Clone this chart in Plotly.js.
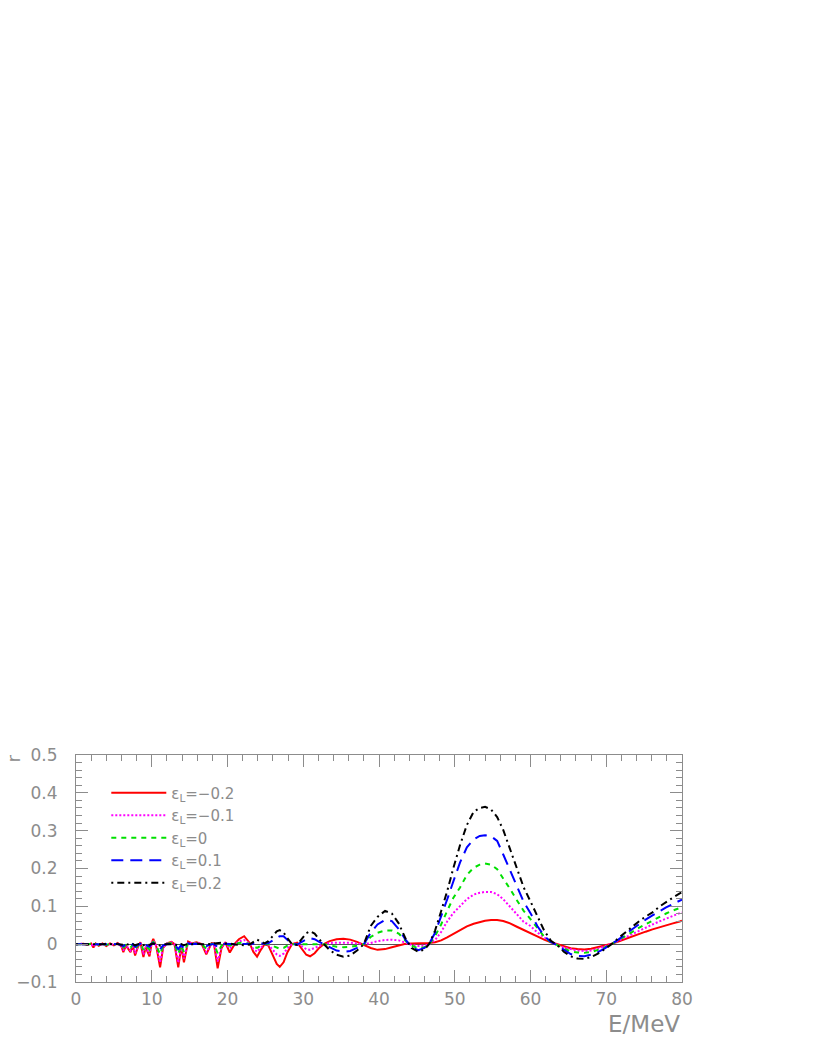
<!DOCTYPE html>
<html>
<head>
<meta charset="utf-8">
<script src="https://cdn.plot.ly/plotly-3.0.1.min.js"></script>
<style>
  html, body { margin: 0; padding: 0; background: #fff; }
  #chart { width: 817px; height: 1058px; }
</style>
</head>
<body>
<div id="chart"></div>
<script>
// energy grid (MeV)
const energy = [
  0, 0.5, 1, 1.5, 2, 2.3, 2.6, 3, 3.5, 4,
  4.5, 5, 5.5, 6, 6.25, 6.6, 6.9, 7.2, 7.5, 7.8,
  8.2, 8.5, 8.9, 9.2, 9.4, 9.7, 10, 10.2, 10.6, 11.1,
  11.5, 12, 12.6, 13, 13.5, 13.9, 14.25, 14.8, 15.3, 15.9,
  16.6, 17.2, 17.9, 18.2, 18.7, 19.2, 19.7, 20.3, 21, 21.5,
  22.2, 22.9, 23.4, 23.9, 24.4, 24.9, 25.4, 26, 26.5, 26.9,
  27.4, 27.9, 28.5, 29.2, 29.8, 30.4, 30.9, 31.5, 32.1, 32.7,
  33.5, 34.4, 35.3, 36.2, 37.1, 38, 38.9, 39.8, 40.8, 41.7,
  42.6, 43.5, 44.3, 45.2, 46, 46.6, 47.4, 48.2, 49, 49.8,
  50.7, 51.6, 52.5, 53.3, 54, 54.8, 55.6, 56.4, 57.3, 58.2,
  59.1, 60, 60.9, 61.8, 62.7, 63.5, 64.4, 65.3, 66.2, 67.1,
  68, 68.9, 69.8, 70.7, 71.6, 72.5, 73.4, 74.3, 75.2, 76.1,
  77, 77.9, 78.8, 79.7, 80
];

// eps_L = -0.2
const rMinus02 = [
  0, 0, 0.001, -0.002, 0.002, -0.009, 0.002, -0.004, 0.002, -0.005,
  0.002, -0.003, 0.003, -0.006, -0.021, -0.004, -0.012, -0.021, -0.003, -0.030,
  -0.006, 0.005, -0.034, -0.008, -0.018, -0.032, 0.004, 0.014, -0.006, -0.061,
  -0.010, 0.002, 0.006, 0.000, -0.061, -0.006, -0.048, 0.007, 0.002, 0.005,
  0.000, -0.027, 0.003, 0.003, -0.064, -0.011, 0.005, -0.022, 0.002, 0.013,
  0.021, 0.004, -0.020, -0.033, -0.015, 0.000, -0.004, -0.030, -0.052, -0.060,
  -0.048, -0.022, 0.000, 0.004, -0.012, -0.028, -0.032, -0.024, -0.010, 0.000,
  0.008, 0.013, 0.014, 0.012, 0.006, -0.002, -0.010, -0.015, -0.013, -0.008,
  -0.003, 0.001, 0.002, 0.002, 0.002, 0.003, 0.005, 0.010, 0.018, 0.027,
  0.036, 0.047, 0.054, 0.059, 0.062, 0.064, 0.064, 0.061, 0.055, 0.046,
  0.037, 0.030, 0.019, 0.012, 0.005, 0.000, -0.007, -0.011, -0.013, -0.014,
  -0.012, -0.008, -0.004, 0.001, 0.007, 0.014, 0.021, 0.027, 0.033, 0.039,
  0.045, 0.050, 0.055, 0.060, 0.062
];

// eps_L = -0.1
const rMinus01 = [
  0, 0, 0.001, -0.001, 0.001, -0.007, 0.001, -0.003, 0.001, -0.004,
  0.001, -0.002, 0.002, -0.005, -0.017, -0.003, -0.010, -0.017, -0.002, -0.024,
  -0.005, 0.004, -0.027, -0.006, -0.014, -0.026, 0.003, 0.011, -0.005, -0.049,
  -0.008, 0.002, 0.005, 0, -0.049, -0.005, -0.038, 0.005, 0.002, 0.004,
  0, -0.021, 0.002, 0.002, -0.046, -0.008, 0.003, -0.011, 0.001, 0.007,
  0.011, 0.002, -0.012, -0.020, -0.009, 0, -0.002, -0.016, -0.027, -0.031,
  -0.025, -0.011, 0, 0.002, -0.006, -0.013, -0.015, -0.011, -0.005, 0,
  0.003, 0.004, 0.004, 0.004, 0.002, 0, 0.003, 0.008, 0.011, 0.012,
  0.010, 0.003, -0.002, -0.005, -0.004, 0, 0.011, 0.032, 0.060, 0.082,
  0.101, 0.119, 0.131, 0.136, 0.138, 0.138, 0.132, 0.119, 0.099, 0.078,
  0.059, 0.048, 0.031, 0.018, 0.007, -0.002, -0.009, -0.014, -0.017, -0.018,
  -0.017, -0.012, -0.006, 0.001, 0.009, 0.018, 0.026, 0.035, 0.044, 0.052,
  0.060, 0.068, 0.075, 0.082, 0.084
];

// eps_L = 0
const rZero = [
  0, 0, 0, -0.001, 0.001, -0.004, 0.001, -0.002, 0.001, -0.002,
  0.001, -0.001, 0.001, -0.003, -0.009, -0.002, -0.005, -0.009, -0.001, -0.013,
  -0.003, 0.002, -0.015, -0.004, -0.008, -0.014, 0.002, 0.006, -0.003, -0.027,
  -0.005, 0.001, 0.003, 0, -0.026, -0.003, -0.021, 0.003, 0.001, 0.002,
  0, -0.012, 0.001, 0.001, -0.024, -0.004, 0.002, -0.004, 0, 0.003,
  0.004, 0.001, -0.006, -0.010, -0.004, 0, 0, -0.005, -0.010, -0.012,
  -0.010, -0.004, 0, 0, 0, 0, 0, 0, 0, 0,
  -0.003, -0.007, -0.008, -0.007, -0.004, 0, 0.019, 0.030, 0.036, 0.036,
  0.028, 0.009, -0.004, -0.011, -0.008, -0.001, 0.021, 0.052, 0.088, 0.122,
  0.150, 0.183, 0.202, 0.210, 0.213, 0.210, 0.198, 0.175, 0.146, 0.116,
  0.088, 0.066, 0.043, 0.020, 0.005, -0.002, -0.012, -0.019, -0.022, -0.023,
  -0.021, -0.016, -0.009, 0, 0.010, 0.022, 0.032, 0.043, 0.053, 0.063,
  0.072, 0.081, 0.089, 0.095, 0.098
];

// eps_L = 0.1
const rPlus01 = [
  0, 0, 0, 0, 0, -0.002, 0, -0.001, 0, -0.001,
  0, 0, 0.001, -0.002, -0.005, -0.001, -0.003, -0.005, 0, -0.007,
  -0.002, 0.001, -0.008, -0.002, -0.004, -0.007, 0.001, 0.003, -0.002, -0.013,
  -0.003, 0, 0.001, 0, -0.013, -0.002, -0.011, 0.002, 0, 0.001,
  0, -0.005, 0, 0, -0.007, -0.001, 0.001, 0, 0, 0,
  0, 0, 0.001, 0.002, 0.002, 0.001, 0.003, 0.010, 0.018, 0.021,
  0.021, 0.011, 0, -0.001, 0.006, 0.013, 0.016, 0.013, 0.006, 0,
  -0.010, -0.017, -0.020, -0.018, -0.010, 0, 0.030, 0.052, 0.064, 0.061,
  0.040, 0.012, -0.008, -0.016, -0.010, 0, 0.030, 0.073, 0.118, 0.165,
  0.216, 0.256, 0.277, 0.286, 0.288, 0.285, 0.273, 0.237, 0.196, 0.154,
  0.112, 0.082, 0.048, 0.022, 0.006, -0.003, -0.015, -0.026, -0.031, -0.032,
  -0.028, -0.021, -0.011, 0, 0.012, 0.026, 0.039, 0.053, 0.065, 0.076,
  0.087, 0.097, 0.106, 0.115, 0.118
];

// eps_L = 0.2
const rPlus02 = [
  0, 0, 0, 0, 0, -0.001, 0, 0, 0, 0.001,
  0, 0.001, 0, -0.001, -0.002, 0, -0.001, -0.002, 0, -0.003,
  0, 0.001, -0.003, 0, -0.001, -0.002, 0.001, 0.002, 0, -0.004,
  0, 0, 0.001, 0, -0.004, 0, -0.003, 0.001, 0, 0.001,
  0, -0.001, 0.001, 0.002, 0.004, 0.004, 0.002, 0.002, -0.001, -0.002,
  -0.003, -0.001, 0.006, 0.012, 0.007, 0.002, 0.008, 0.022, 0.034, 0.037,
  0.031, 0.016, 0, -0.002, 0.014, 0.029, 0.034, 0.028, 0.013, 0,
  -0.016, -0.028, -0.033, -0.030, -0.017, 0, 0.048, 0.072, 0.088, 0.081,
  0.055, 0.015, -0.010, -0.020, -0.014, 0, 0.036, 0.087, 0.140, 0.200,
  0.262, 0.315, 0.350, 0.360, 0.363, 0.356, 0.336, 0.302, 0.253, 0.202,
  0.150, 0.113, 0.074, 0.036, 0.009, -0.002, -0.020, -0.032, -0.038, -0.039,
  -0.034, -0.025, -0.013, 0, 0.016, 0.031, 0.046, 0.060, 0.073, 0.084,
  0.099, 0.112, 0.123, 0.134, 0.137
];

const seriesNames = [
  'ε<sub>L</sub>=−0.2',
  'ε<sub>L</sub>=−0.1',
  'ε<sub>L</sub>=0',
  'ε<sub>L</sub>=0.1',
  'ε<sub>L</sub>=0.2'
];
const seriesValues = [rMinus02, rMinus01, rZero, rPlus01, rPlus02];
const seriesColors = ['#ff0000', '#ff00ff', '#00e000', '#0000ff', '#000000'];
const seriesDash = ['solid', '2px,2px', '5px,5px', '12px,7px', '2px,4px,7px,4px'];

const xTicks = [0, 10, 20, 30, 40, 50, 60, 70, 80];
const yTicks = [-0.1, 0, 0.1, 0.2, 0.3, 0.4, 0.5];

const grey = '#8c8c8c';
const font = 'DejaVu Sans, Liberation Sans, sans-serif';

const traces = seriesValues.map((vals, i) => ({
    x: energy,
    y: vals,
    type: 'scatter',
    mode: 'lines',
    name: seriesNames[i],
    line: { color: seriesColors[i], width: 2, dash: seriesDash[i] }
}));

const axisCommon = {
    showgrid: false,
    showline: true,
    linecolor: grey,
    linewidth: 1,
    mirror: 'allticks',
    ticks: 'inside',
    ticklen: 12,
    tickcolor: grey,
    tickwidth: 1,
    tickfont: { family: font, size: 17, color: grey },
    tickmode: 'array'
};

const layout = {
    width: 817,
    height: 1058,
    margin: { l: 76, r: 135, t: 755, b: 76 },
    paper_bgcolor: '#fff',
    plot_bgcolor: '#fff',
    showlegend: true,
    legend: {
        x: 0.05, y: 0.905, xanchor: 'left', yanchor: 'top',
        bgcolor: 'rgba(0,0,0,0)',
        font: { family: font, size: 15, color: grey },
        itemwidth: 55
    },
    xaxis: Object.assign({}, axisCommon, {
        range: [0, 80],
        tickvals: xTicks,
        ticktext: xTicks.map(String),
        ticklabelstandoff: 2,
        zeroline: false,
        minor: { dtick: 2, ticks: 'inside', ticklen: 6, tickcolor: grey, showgrid: false }
    }),
    yaxis: Object.assign({}, axisCommon, {
        range: [-0.1, 0.5],
        tickvals: yTicks,
        ticktext: yTicks.map(v => v < 0 ? '−' + Math.abs(v) : String(v)),
        ticklabelstandoff: 14,
        zeroline: true,
        zerolinecolor: '#555',
        zerolinewidth: 1,
        minor: { dtick: 0.02, ticks: 'inside', ticklen: 6, tickcolor: grey, showgrid: false }
    }),
    annotations: [
        {
            text: 'r', xref: 'paper', yref: 'paper',
            x: -0.104, y: 0.985, xanchor: 'center', yanchor: 'middle',
            textangle: -90, showarrow: false,
            font: { family: font, size: 18, color: grey }
        },
        {
            text: 'E/MeV', xref: 'paper', yref: 'paper',
            x: 1, y: -0.185, xanchor: 'right', yanchor: 'middle',
            showarrow: false,
            font: { family: font, size: 23, color: grey }
        }
    ]
};

Plotly.newPlot('chart', traces, layout, { displayModeBar: false, staticPlot: true });
</script>
</body>
</html>
